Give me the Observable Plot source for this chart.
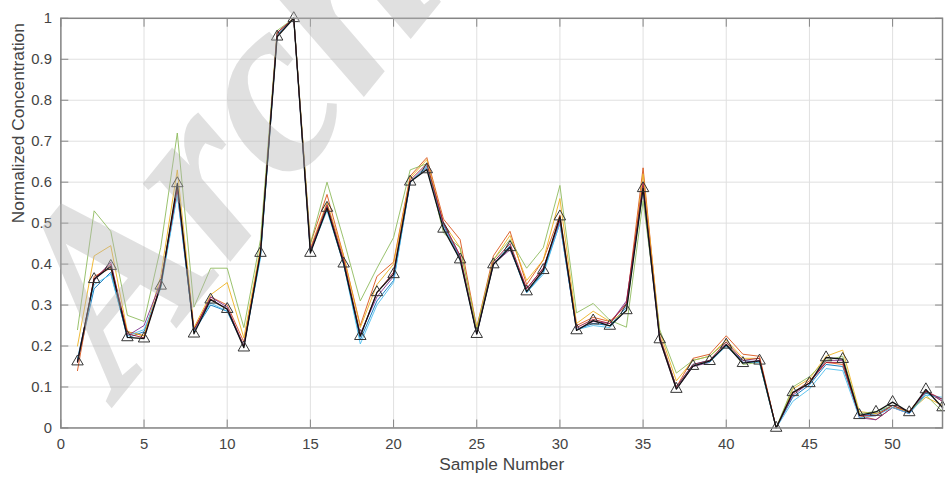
<!DOCTYPE html>
<html><head><meta charset="utf-8">
<script src="https://cdn.jsdelivr.net/npm/d3@7"></script>
<script src="https://cdn.jsdelivr.net/npm/@observablehq/plot@0.6"></script>
<style>
html,body{margin:0;padding:0;background:#fff;overflow:hidden;width:945px;height:479px;}
#chart{position:absolute;left:0;top:0;}
#wm{position:absolute;left:0;top:0;pointer-events:none;}
</style></head><body>
<div id="chart"></div>
<svg id="wm" width="945" height="479"><text x="120" y="398" transform="rotate(-51 120 398)" font-family="Liberation Serif, serif" font-weight="bold" font-style="italic" font-size="255" fill="rgb(180,180,180)" fill-opacity="0.42">Archive</text></svg>
<script>
const samples = [1,2,3,4,5,6,7,8,9,10,11,12,13,14,15,16,17,18,19,20,21,22,23,24,25,26,27,28,29,30,31,32,33,34,35,36,37,38,39,40,41,42,43,44,45,46,47,48,49,50,51,52,53];
const xTicks = [0,5,10,15,20,25,30,35,40,45,50];
const yTicks = [0,0.1,0.2,0.3,0.4,0.5,0.6,0.7,0.8,0.9,1];
const xLabel = "Sample Number";
const yLabel = "Normalized Concentration";

const reference = [0.162,0.363,0.395,0.221,0.218,0.347,0.597,0.230,0.313,0.290,0.196,0.427,0.955,1.0,0.427,0.537,0.401,0.224,0.331,0.375,0.601,0.631,0.486,0.411,0.229,0.399,0.441,0.333,0.385,0.516,0.238,0.262,0.249,0.287,0.585,0.216,0.095,0.151,0.163,0.203,0.158,0.164,0.0,0.087,0.109,0.172,0.168,0.031,0.039,0.063,0.038,0.094,0.05];
const seriesBlue   = [0.16,0.34,0.38,0.22,0.235,0.345,0.575,0.235,0.30,0.285,0.20,0.42,0.96,1.0,0.43,0.535,0.40,0.215,0.31,0.36,0.60,0.64,0.495,0.415,0.23,0.40,0.445,0.33,0.38,0.50,0.24,0.255,0.25,0.295,0.59,0.22,0.10,0.155,0.165,0.20,0.165,0.16,0.0,0.075,0.105,0.155,0.15,0.03,0.035,0.055,0.035,0.085,0.07];
const seriesOrange = [0.14,0.37,0.39,0.235,0.225,0.35,0.59,0.24,0.32,0.30,0.21,0.43,0.965,1.0,0.45,0.57,0.42,0.25,0.37,0.405,0.615,0.66,0.51,0.46,0.245,0.42,0.48,0.35,0.41,0.52,0.25,0.27,0.26,0.30,0.635,0.225,0.10,0.17,0.18,0.225,0.18,0.175,0.0,0.085,0.115,0.16,0.155,0.03,0.02,0.05,0.04,0.09,0.065];
const seriesYellow = [0.20,0.42,0.445,0.235,0.225,0.37,0.63,0.245,0.325,0.355,0.22,0.44,0.96,1.0,0.44,0.55,0.42,0.245,0.35,0.40,0.61,0.655,0.50,0.44,0.245,0.41,0.47,0.36,0.41,0.56,0.255,0.285,0.26,0.285,0.62,0.235,0.115,0.165,0.175,0.215,0.17,0.17,0.0,0.095,0.12,0.175,0.19,0.04,0.035,0.05,0.04,0.075,0.055];
const seriesPurple = [0.165,0.36,0.405,0.225,0.25,0.355,0.58,0.235,0.32,0.295,0.20,0.425,0.96,1.0,0.43,0.54,0.405,0.23,0.32,0.37,0.60,0.635,0.50,0.42,0.23,0.40,0.435,0.34,0.39,0.505,0.24,0.26,0.255,0.31,0.58,0.215,0.095,0.15,0.16,0.205,0.16,0.165,0.0,0.08,0.11,0.165,0.165,0.025,0.02,0.05,0.035,0.09,0.065];
const seriesGreen  = [0.24,0.53,0.48,0.275,0.26,0.44,0.72,0.295,0.39,0.39,0.245,0.46,0.97,1.0,0.45,0.60,0.46,0.31,0.39,0.465,0.63,0.645,0.476,0.44,0.24,0.41,0.46,0.39,0.44,0.592,0.281,0.304,0.263,0.246,0.555,0.24,0.134,0.165,0.175,0.21,0.155,0.16,0.0,0.10,0.125,0.165,0.175,0.035,0.04,0.055,0.04,0.08,0.04];
const seriesCyan   = [0.17,0.35,0.375,0.225,0.24,0.34,0.57,0.235,0.305,0.285,0.20,0.415,0.96,1.0,0.43,0.53,0.40,0.205,0.30,0.355,0.60,0.635,0.49,0.41,0.23,0.40,0.44,0.33,0.375,0.50,0.24,0.25,0.245,0.29,0.585,0.22,0.10,0.155,0.16,0.20,0.16,0.16,0.0,0.065,0.095,0.145,0.14,0.025,0.03,0.05,0.035,0.08,0.075];
const seriesRed    = [0.16,0.365,0.40,0.23,0.22,0.35,0.585,0.24,0.315,0.29,0.20,0.43,0.965,1.0,0.435,0.545,0.41,0.225,0.33,0.38,0.605,0.645,0.50,0.42,0.23,0.405,0.45,0.34,0.39,0.51,0.245,0.265,0.255,0.305,0.60,0.22,0.10,0.155,0.165,0.21,0.165,0.17,0.0,0.085,0.11,0.16,0.16,0.03,0.03,0.055,0.04,0.09,0.07];

const colored = [
  {values: seriesBlue, color: "#0072BD"},
  {values: seriesOrange, color: "#D95319"},
  {values: seriesYellow, color: "#EDB120"},
  {values: seriesPurple, color: "#7E2F8E"},
  {values: seriesGreen, color: "#8DBA5C"},
  {values: seriesCyan, color: "#4DBEEE"},
  {values: seriesRed, color: "#A2142F"}
];
const toRows = vals => samples.map((s, i) => ({sample: s, value: vals[i]}));
const refRows = toRows(reference);

const axisColor = "#858585";
const chart = Plot.plot({
  width: 955, height: 479,
  marginTop: 18, marginBottom: 47, marginLeft: 61, marginRight: 3,
  x: {domain: [0, 53]},
  y: {domain: [0, 1]},
  style: {fontFamily: "'Liberation Sans', Arial, sans-serif", fontSize: "15px", color: "#444", background: "white", overflow: "hidden"},
  marks: [
    Plot.gridX(xTicks, {stroke: "#e0e0e0", strokeOpacity: 1}),
    Plot.gridY(yTicks, {stroke: "#e0e0e0", strokeOpacity: 1}),
    Plot.axisX(xTicks, {anchor: "bottom", tickSize: 0, tickPadding: 11, label: null, fill: "#444", fontSize: 15}),
    Plot.axisY(yTicks, {anchor: "left", tickSize: 0, tickPadding: 9, label: null, tickFormat: d => String(d), fill: "#444", fontSize: 15}),
    Plot.axisX(xTicks, {anchor: "bottom", tickSize: 8, dy: -8, tickFormat: () => "", label: null, stroke: axisColor}),
    Plot.axisX(xTicks, {anchor: "top", tickSize: 8, dy: 8, tickFormat: () => "", label: null, stroke: axisColor}),
    Plot.axisY(yTicks, {anchor: "left", tickSize: 8, dx: 8, tickFormat: () => "", label: null, stroke: axisColor}),
    Plot.axisY(yTicks, {anchor: "right", tickSize: 8, dx: -8, tickFormat: () => "", label: null, stroke: axisColor}),
    ...colored.map(c => Plot.line(toRows(c.values), {x: "sample", y: "value", stroke: c.color, strokeWidth: 1, strokeOpacity: 0.9})),
    Plot.line(refRows, {x: "sample", y: "value", stroke: "#111", strokeWidth: 1.3}),
    Plot.dot(refRows, {x: "sample", y: "value", symbol: "triangle", r: 4.3, stroke: "#333", strokeWidth: 1, fill: "none"}),
    Plot.frame({stroke: axisColor, strokeWidth: 1.5}),
    Plot.text([xLabel], {frameAnchor: "bottom", lineAnchor: "middle", dy: 37, fontSize: 17.5, fill: "#444", text: d => d}),
    Plot.text([yLabel], {frameAnchor: "left", lineAnchor: "middle", dx: -43, rotate: -90, fontSize: 17.5, fill: "#444", text: d => d})
  ]
});
document.getElementById("chart").appendChild(chart);
</script>
</body></html>
